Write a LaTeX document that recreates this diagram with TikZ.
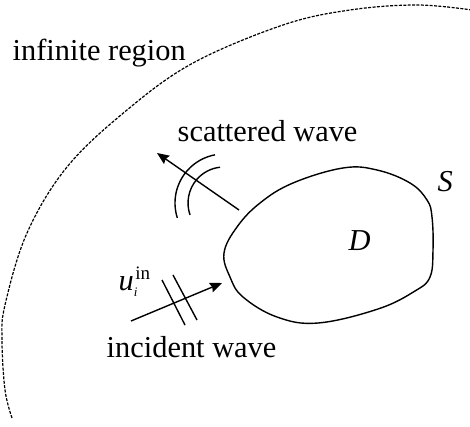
\documentclass[tikz,border=0pt]{standalone}
\usepackage{fontspec}
\setmainfont{Liberation Serif}
\usetikzlibrary{arrows.meta}
\begin{document}
\begin{tikzpicture}[x=1pt,y=-1pt, line width=1.4pt,
  font=\fontsize{30.4}{36}\selectfont,
  lbl/.style={inner sep=0pt, anchor=base west},
  bound/.style={line width=1.2pt, dash pattern=on 3pt off 1.4pt},
  arr/.style={-{Stealth[length=12pt,width=10pt,inset=1.5pt]}}]
\useasboundingbox (0,0) rectangle (470,427);
% infinite region boundary
\draw[bound] plot[smooth, tension=0.6] coordinates {(472,10) (417,5) (350,10) (283,25) (193,63) (127,110) (67,167) (27,233) (5,305) (2,340) (5,390) (12,418)};
% obstacle D with surface S
\draw plot[smooth cycle, tension=0.65] coordinates {(224,253) (237,227) (260,203) (293,183) (343,168) (377,170) (410,183) (427,200) (432,217) (433,250) (430,277) (415,291) (378,309) (318,323) (277,317) (243,297) (230,277)};
% labels
\node[lbl] (inf) at (12,61) {infinite region};
\node[lbl] (sca) at (177,142) {scattered wave};
\node[lbl] (inc) at (106,357) {incident wave};
\node[lbl] (D) at (348,250) {\itshape D};
\node[lbl] (S) at (437,192) {\itshape S};
\node[lbl] (u) at (118,290) {{\itshape u}\makebox[0pt][l]{\raisebox{-6pt}{\fontsize{13}{13}\selectfont\itshape i}}\hspace{1.5pt}\raisebox{11pt}{\fontsize{19}{19}\selectfont in}};
% scattered wave
\coordinate (s0) at (239,210);
\coordinate (s1) at (157,153);
\draw[arr] (s0) -- (s1);
\coordinate (sc) at (224,203);
\draw (sc) ++(162.3:49) arc[start angle=162.3, end angle=259.4, radius=49];
\draw (sc) ++(160.6:36) arc[start angle=160.6, end angle=263.7, radius=36];
% incident wave
\coordinate (i0) at (131,321);
\coordinate (i1) at (222,283);
\draw[arr] (i0) -- (i1);
\coordinate (f1a) at (162,280);
\coordinate (f1b) at (185,325);
\coordinate (f2a) at (173,275);
\coordinate (f2b) at (197,320);
\draw (f1a) -- (f1b);
\draw (f2a) -- (f2b);
\end{tikzpicture}
\end{document}
